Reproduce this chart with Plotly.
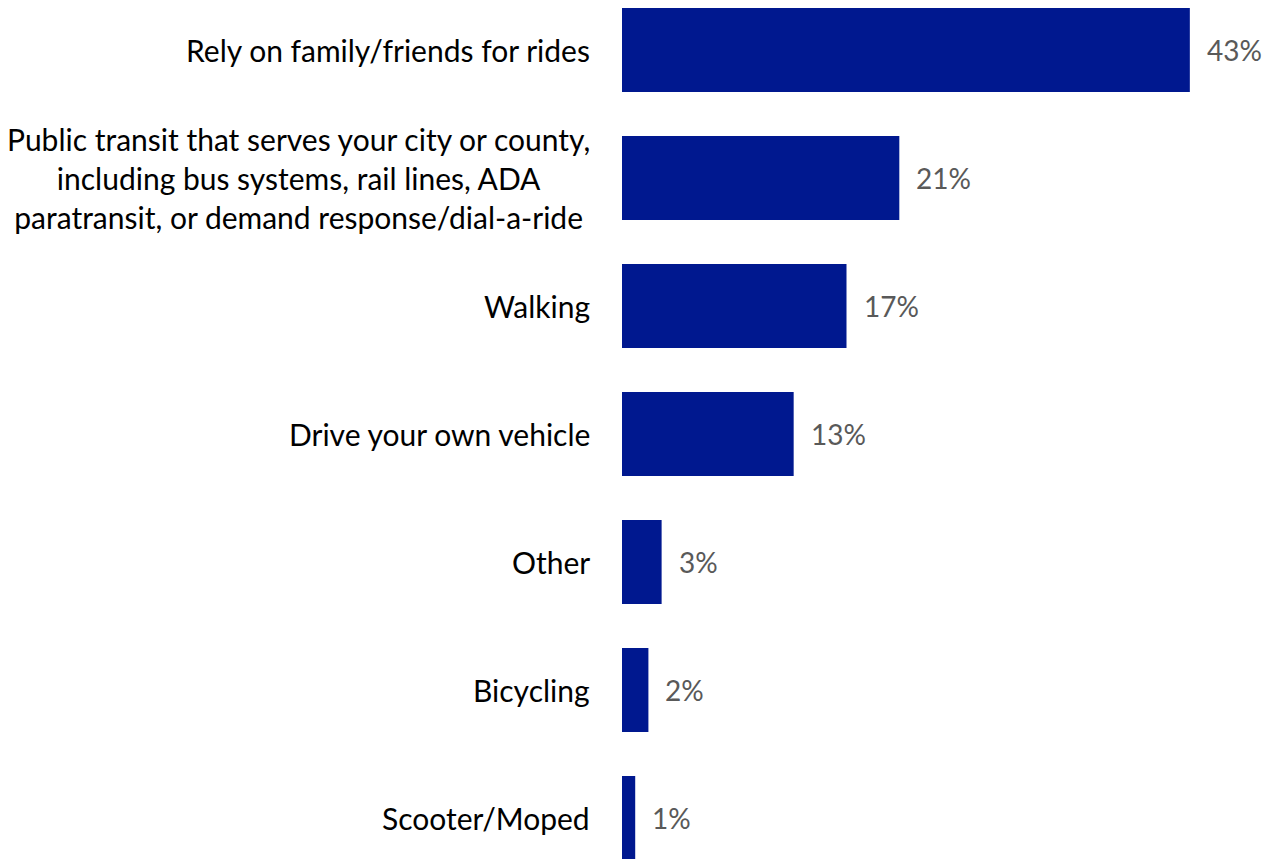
import plotly.graph_objects as go

categories = [
    "Rely on family/friends for rides",
    "Public transit that serves your city or county,<br>including bus systems, rail lines, ADA<br>paratransit, or demand response/dial-a-ride",
    "Walking",
    "Drive your own vehicle",
    "Other",
    "Bicycling",
    "Scooter/Moped",
]
values = [43, 21, 17, 13, 3, 2, 1]
value_labels = ["43%", "21%", "17%", "13%", "3%", "2%", "1%"]

BAR_COLOR = "#00188F"
LABEL_COLOR = "#595959"
FONT = "Lato, Open Sans, sans-serif"

fig = go.Figure(
    go.Bar(
        x=values,
        y=categories,
        orientation="h",
        marker=dict(color=BAR_COLOR, line=dict(width=0)),
        width=0.656,
        hoverinfo="skip",
    )
)

# value labels just past the end of each bar
for cat, val, lab in zip(categories, values, value_labels):
    fig.add_annotation(
        x=val, y=cat, text=lab, showarrow=False,
        xanchor="left", yanchor="middle", xshift=15,
        font=dict(family=FONT, size=28, color=LABEL_COLOR),
    )

# category labels, centre-aligned text block right of the axis
for cat in categories:
    fig.add_annotation(
        x=0, xref="paper", y=cat, text=cat, showarrow=False,
        xanchor="right", yanchor="middle", xshift=-30, align="center",
        font=dict(family=FONT, size=30, color="#000000"),
    )

fig.update_layout(
    width=1277, height=859,
    margin=dict(l=622, r=0, t=0, b=0),
    paper_bgcolor="white", plot_bgcolor="white",
    showlegend=False,
    font=dict(family=FONT, size=30, color="#000000"),
    xaxis=dict(range=[0, 49.6], visible=False, fixedrange=True),
    yaxis=dict(
        type="category",
        categoryorder="array", categoryarray=categories,
        range=[6.32, -0.39],
        showgrid=False, zeroline=False, showline=False,
        ticks="", showticklabels=False,
    ),
)

fig.write_html("out.html")
